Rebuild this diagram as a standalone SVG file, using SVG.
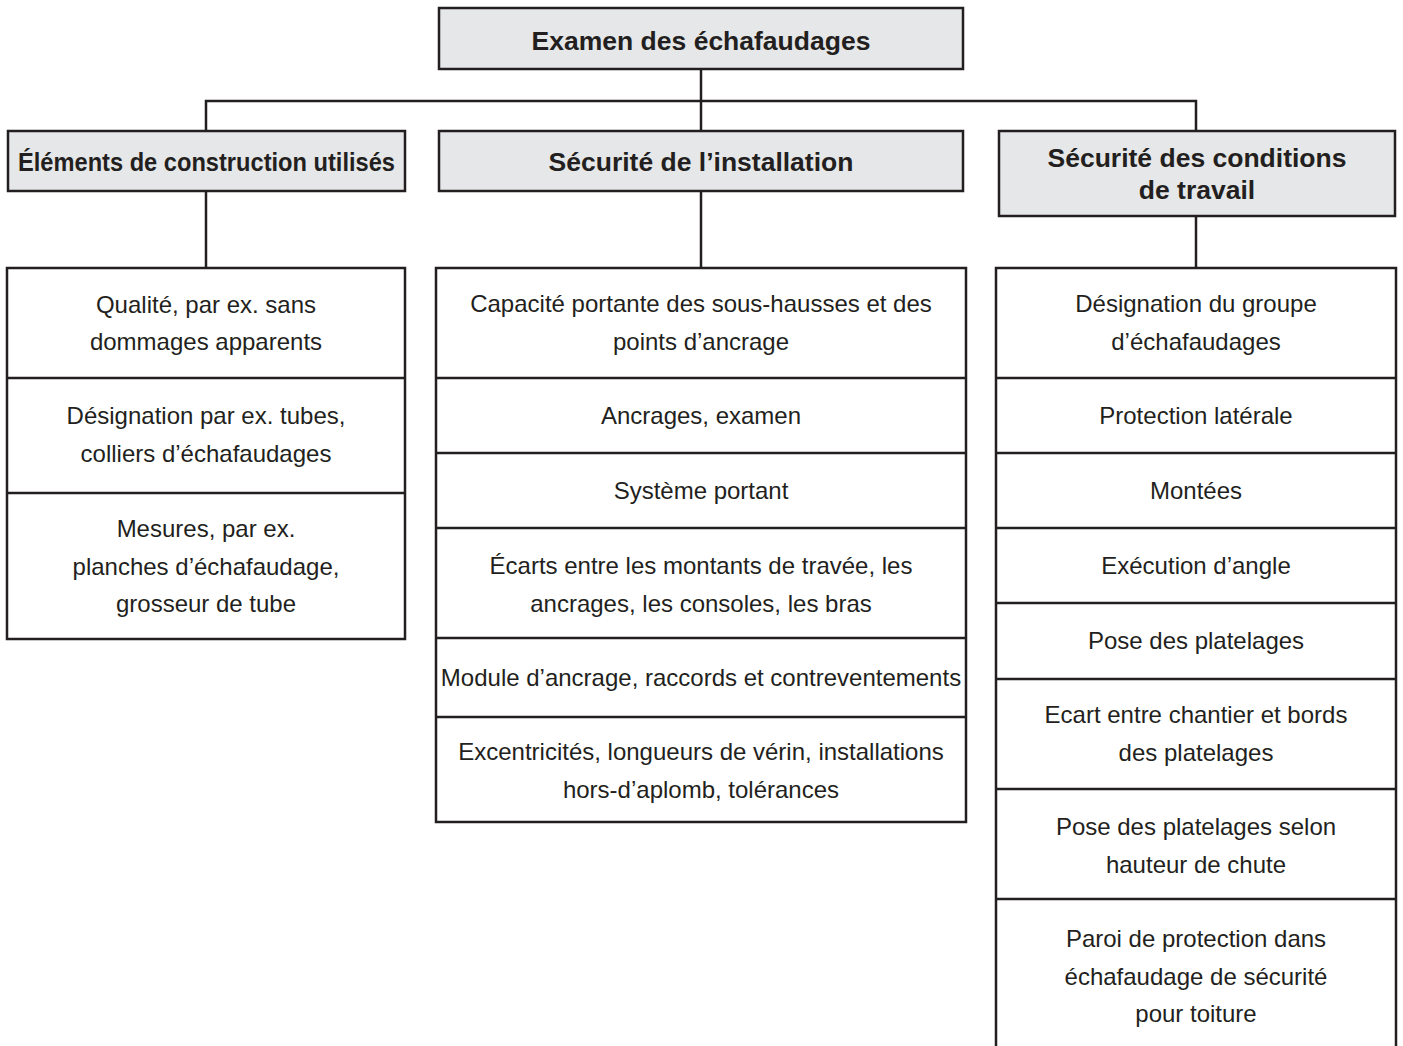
<svg xmlns="http://www.w3.org/2000/svg" width="1403" height="1046" viewBox="0 0 1403 1046">
<style>
.box{fill:#ffffff;stroke:#231f20;stroke-width:2.5}
.hdr{fill:#e6e7e8;stroke:#231f20;stroke-width:2.5}
.div{stroke:#231f20;stroke-width:2.5}
.con{stroke:#231f20;stroke-width:2.5;fill:none}
.h{font-family:"Liberation Sans",Arial,Helvetica,sans-serif;font-weight:bold;font-size:26.5px;fill:#231f20;text-anchor:middle}
.t{font-family:"Liberation Sans",Arial,Helvetica,sans-serif;font-size:24px;fill:#231f20;text-anchor:middle}
</style>
<rect width="1403" height="1046" fill="#ffffff"/>
<g id="connectors">
<line class="con" x1="701" y1="69" x2="701" y2="131"/>
<polyline class="con" points="206,131 206,101 1196,101 1196,131"/>
<line class="con" x1="206" y1="191" x2="206" y2="268"/>
<line class="con" x1="701" y1="191" x2="701" y2="268"/>
<line class="con" x1="1196" y1="216" x2="1196" y2="268"/>
</g>
<g id="root">
<rect class="hdr" x="439" y="8" width="524" height="61"/>
<text class="h" x="701" y="49.5">Examen des échafaudages</text>
</g>
<g id="h1">
<rect class="hdr" x="8" y="131" width="397" height="60"/>
<text class="h" x="206.5" y="171" textLength="377" lengthAdjust="spacingAndGlyphs">Éléments de construction utilisés</text>
</g>
<g id="h2">
<rect class="hdr" x="439" y="131" width="524" height="60"/>
<text class="h" x="701" y="171">Sécurité de l’installation</text>
</g>
<g id="h3">
<rect class="hdr" x="999" y="131" width="396" height="85"/>
<text class="h" x="1197" y="167">Sécurité des conditions</text>
<text class="h" x="1197" y="199">de travail</text>
</g>
<g id="c1">
<rect class="box" x="7" y="268" width="398" height="371"/>
<line class="div" x1="7" y1="378" x2="405" y2="378"/>
<line class="div" x1="7" y1="493" x2="405" y2="493"/>
<text class="t" x="206" y="312.5">Qualité, par ex. sans</text>
<text class="t" x="206" y="350">dommages apparents</text>
<text class="t" x="206" y="424">Désignation par ex. tubes,</text>
<text class="t" x="206" y="462">colliers d’échafaudages</text>
<text class="t" x="206" y="537">Mesures, par ex.</text>
<text class="t" x="206" y="574.5">planches d’échafaudage,</text>
<text class="t" x="206" y="612">grosseur de tube</text>
</g>
<g id="c2">
<rect class="box" x="436" y="268" width="530" height="554"/>
<line class="div" x1="436" y1="378" x2="966" y2="378"/>
<line class="div" x1="436" y1="453" x2="966" y2="453"/>
<line class="div" x1="436" y1="528" x2="966" y2="528"/>
<line class="div" x1="436" y1="638" x2="966" y2="638"/>
<line class="div" x1="436" y1="717" x2="966" y2="717"/>
<text class="t" x="701" y="312">Capacité portante des sous-hausses et des</text>
<text class="t" x="701" y="349.5">points d’ancrage</text>
<text class="t" x="701" y="423.5">Ancrages, examen</text>
<text class="t" x="701" y="498.5">Système portant</text>
<text class="t" x="701" y="574">Écarts entre les montants de travée, les</text>
<text class="t" x="701" y="611.5">ancrages, les consoles, les bras</text>
<text class="t" x="701" y="685.5">Module d’ancrage, raccords et contreventements</text>
<text class="t" x="701" y="760">Excentricités, longueurs de vérin, installations</text>
<text class="t" x="701" y="797.5">hors-d’aplomb, tolérances</text>
</g>
<g id="c3">
<rect class="box" x="996" y="268" width="400" height="790"/>
<line class="div" x1="996" y1="378" x2="1396" y2="378"/>
<line class="div" x1="996" y1="453" x2="1396" y2="453"/>
<line class="div" x1="996" y1="528" x2="1396" y2="528"/>
<line class="div" x1="996" y1="603" x2="1396" y2="603"/>
<line class="div" x1="996" y1="679" x2="1396" y2="679"/>
<line class="div" x1="996" y1="789" x2="1396" y2="789"/>
<line class="div" x1="996" y1="899" x2="1396" y2="899"/>
<text class="t" x="1196" y="312">Désignation du groupe</text>
<text class="t" x="1196" y="349.5">d’échafaudages</text>
<text class="t" x="1196" y="423.5">Protection latérale</text>
<text class="t" x="1196" y="498.5">Montées</text>
<text class="t" x="1196" y="574">Exécution d’angle</text>
<text class="t" x="1196" y="648.5">Pose des platelages</text>
<text class="t" x="1196" y="723">Ecart entre chantier et bords</text>
<text class="t" x="1196" y="760.5">des platelages</text>
<text class="t" x="1196" y="835">Pose des platelages selon</text>
<text class="t" x="1196" y="872.5">hauteur de chute</text>
<text class="t" x="1196" y="947">Paroi de protection dans</text>
<text class="t" x="1196" y="984.5">échafaudage de sécurité</text>
<text class="t" x="1196" y="1022">pour toiture</text>
</g>
</svg>
